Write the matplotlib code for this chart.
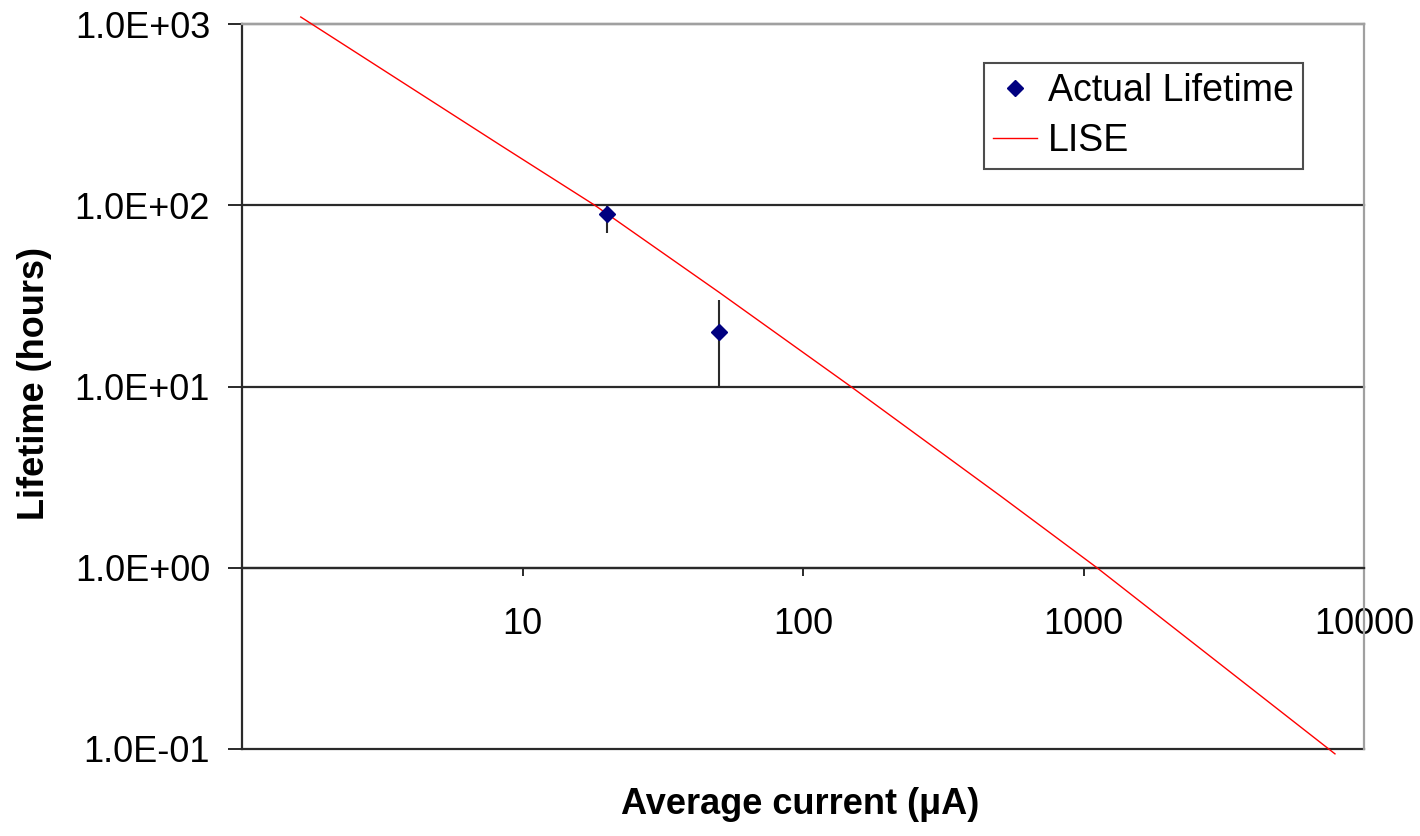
import matplotlib
matplotlib.use("Agg")
import matplotlib.pyplot as plt
from matplotlib.ticker import FixedLocator, FuncFormatter, NullLocator

plt.rcParams['font.family'] = ['Liberation Sans', 'DejaVu Sans']

# Measured lifetimes (with error ranges)
actual_current = [20, 50]
actual_lifetime = [90, 20]
actual_low = [70, 10]
actual_high = [100, 30]

# LISE prediction curve
lise_current = [1.62, 8.32, 18.1, 50.2, 148, 504, 1117, 7880]
lise_lifetime = [1093, 215, 100, 33.1, 10, 2.50, 1, 0.094]

x_ticks = [10, 100, 1000, 10000]
y_ticks = [0.1, 1, 10, 100, 1000]

W, H = 1420, 836
fig = plt.figure(figsize=(W / 100, H / 100), dpi=100)
ax = fig.add_axes([242 / W, 87 / H, 1122 / W, 725 / H])
ax.set_xscale('log')
ax.set_yscale('log')
ax.set_xlim(1, 10000)
ax.set_ylim(0.1, 1000)

dark = '#2a2a2a'
grey = '#a0a0a0'

# horizontal gridlines
ax.yaxis.set_major_locator(FixedLocator(y_ticks))
ax.yaxis.set_minor_locator(NullLocator())
ax.yaxis.grid(True, color=dark, linewidth=1.6)
ax.set_axisbelow(True)

ax.xaxis.set_major_locator(FixedLocator(x_ticks))
ax.xaxis.set_minor_locator(NullLocator())

ax.yaxis.set_major_formatter(FuncFormatter(lambda v, p: f"{v:.1E}"))
ax.xaxis.set_major_formatter(FuncFormatter(lambda v, p: f"{v:g}"))

# x axis crosses at lifetime = 1
ax.spines['bottom'].set_position(('data', 1))
ax.spines['bottom'].set_color(dark)
ax.spines['bottom'].set_linewidth(1.6)
ax.spines['left'].set_color(dark)
ax.spines['left'].set_linewidth(1.6)
for s in ('top', 'right'):
    ax.spines[s].set_color(grey)
    ax.spines[s].set_linewidth(1.6)

ax.tick_params(axis='y', which='major', direction='out', length=10, width=1.4,
               color=dark, pad=13, labelsize=26)
ax.tick_params(axis='x', which='major', direction='out', length=6, width=1.4,
               color=dark, pad=22.5, labelsize=26)

fig.canvas.draw()
for gl in ax.get_ygridlines():
    gl.set_clip_on(False)

# LISE curve
ax.plot(lise_current, lise_lifetime, color='#ff0000', linewidth=1.0,
        label='LISE', clip_on=False, zorder=3)

# measured points with error bars
yerr = [[v - lo for v, lo in zip(actual_lifetime, actual_low)],
        [hi - v for v, hi in zip(actual_lifetime, actual_high)]]
ax.errorbar(actual_current, actual_lifetime, yerr=yerr, fmt='none',
            ecolor=dark, elinewidth=1.5, capsize=0, zorder=4)
ax.plot(actual_current, actual_lifetime, linestyle='none', marker='D',
        markersize=8.5, color='#000080', markeredgecolor='#000080',
        label='Actual Lifetime', zorder=5)

handles, labels = ax.get_legend_handles_labels()
leg = ax.legend(handles[::-1], labels[::-1], loc='upper left',
                bbox_to_anchor=(0.661, 0.946), fontsize=27, frameon=True,
                fancybox=False, shadow=False, borderpad=0.26,
                handlelength=1.15, handletextpad=0.3, labelspacing=0.37,
                borderaxespad=0)
leg.get_frame().set_edgecolor('#202020')
leg.get_frame().set_linewidth(1.5)

fig.text(800 / W, 1 - 805 / H, 'Average current (\u03bcA)', ha='center',
         va='center', fontsize=26, fontweight='bold')
fig.text(35 / W, 1 - 384 / H, 'Lifetime (hours)', ha='center', va='center',
         rotation=90, fontsize=26, fontweight='bold')

fig.savefig('out.png', dpi=100, facecolor='white')
